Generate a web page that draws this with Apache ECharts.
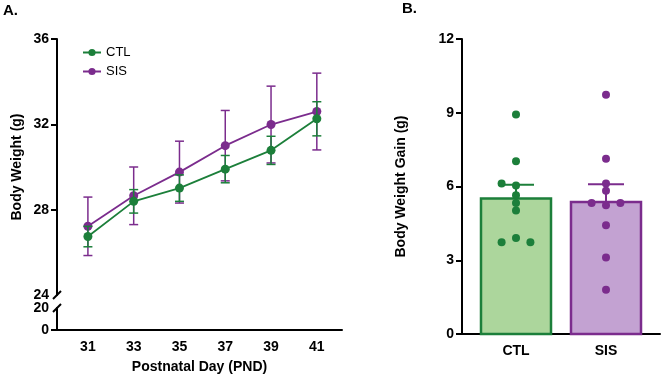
<!DOCTYPE html>
<html>
<head>
<meta charset="utf-8">
<script src="https://cdn.jsdelivr.net/npm/echarts@6/dist/echarts.min.js"></script>
<style>
  html, body { margin: 0; padding: 0; background: #fff; }
  #chart { width: 662px; height: 375px; }
</style>
</head>
<body>
<div id="chart"></div>
<script>
// Panel A: body weight over postnatal days (mean +/- SEM)
const days = [31, 33, 35, 37, 39, 41];
const ctlMean = [26.74, 28.39, 29.01, 29.90, 30.78, 32.26];
const ctlSem = [0.48, 0.55, 0.62, 0.64, 0.66, 0.80];
const sisMean = [27.22, 28.65, 29.76, 31.00, 31.99, 32.60];
const sisSem = [1.37, 1.35, 1.45, 1.65, 1.80, 1.80];
const yTicksTop = [24, 28, 32, 36];
const yTicksBottom = [0, 20];

// Panel B: body weight gain per animal
const groups = ['CTL', 'SIS'];
const gainMean = [5.51, 5.37];
const gainSem = [0.56, 0.72];
const ctlGain = [8.93, 7.03, 6.12, 6.04, 5.64, 5.33, 5.02, 3.91, 3.73, 3.73];
const ctlJitter = [0, 0, -1, 0, 0, 0, 0, 0, -1, 1];
const sisGain = [9.73, 7.13, 6.12, 5.83, 5.33, 5.24, 5.33, 4.42, 3.11, 1.80];
const sisJitter = [0, 0, 0, 0, -1, 0, 1, 0, 0, 0];

const FONT = 'Arial, "Liberation Sans", Helvetica, sans-serif';
const GREEN = '#1c7f3a';
const PURPLE = '#7b2c8d';
const GREEN_FILL = '#acd69c';
const PURPLE_FILL = '#c3a2d2';

// layout
const gA = { left: 57, top: 39, width: 285, height: 256 };
const gA2 = { left: 57, top: 308, width: 285, height: 26 };
const gB = { left: 462, top: 39, width: 198, height: 295 };

const chart = echarts.init(document.getElementById('chart'));

const axisLine = { show: true, lineStyle: { color: '#000', width: 2 } };
const tickLabel = { color: '#000', fontFamily: FONT, fontWeight: 'bold', fontSize: 14 };
const nameStyle = { color: '#000', fontFamily: FONT, fontWeight: 'bold', fontSize: 14 };
const yTick = { show: true, length: 6, lineStyle: { width: 2, color: '#000' } };

function errBarsA(mean, sem) {
  return days.map((d, i) => [d, mean[i] - sem[i], mean[i] + sem[i]]);
}

function renderErr(params, api) {
  const x = api.value(0);
  const lo = api.coord([x, api.value(1)]);
  const hi = api.coord([x, api.value(2)]);
  const c = api.visual('color');
  const hw = 4.5;
  const st = { stroke: c, lineWidth: 1.5 };
  return {
    type: 'group',
    children: [
      { type: 'line', shape: { x1: lo[0], y1: lo[1], x2: hi[0], y2: hi[1] }, style: st },
      { type: 'line', shape: { x1: lo[0] - hw, y1: lo[1], x2: lo[0] + hw, y2: lo[1] }, style: st },
      { type: 'line', shape: { x1: hi[0] - hw, y1: hi[1], x2: hi[0] + hw, y2: hi[1] }, style: st }
    ]
  };
}

function renderBar(params, api) {
  const x = api.value(0);
  const top = api.coord([x, api.value(1)]);
  const base = api.coord([x, 0]);
  const semTop = api.coord([x, api.value(1) + api.value(2)]);
  const fill = params.dataIndex === 0 ? GREEN_FILL : PURPLE_FILL;
  const stroke = params.dataIndex === 0 ? GREEN : PURPLE;
  const w = 70;
  return {
    type: 'group',
    children: [
      {
        type: 'rect',
        shape: { x: top[0] - w / 2, y: top[1], width: w, height: base[1] - top[1] },
        style: { fill: fill, stroke: stroke, lineWidth: 2.5 }
      },
      { type: 'line', shape: { x1: top[0], y1: top[1], x2: semTop[0], y2: semTop[1] }, style: { stroke: stroke, lineWidth: 2 } },
      { type: 'line', shape: { x1: semTop[0] - 18, y1: semTop[1], x2: semTop[0] + 18, y2: semTop[1] }, style: { stroke: stroke, lineWidth: 2 } }
    ]
  };
}

const jit = 0.16;
const option = {
  animation: false,
  backgroundColor: '#fff',
  textStyle: { fontFamily: FONT },
  grid: [
    Object.assign({}, gA),
    Object.assign({}, gA2),
    Object.assign({}, gB)
  ],
  legend: {
    data: ['CTL', 'SIS'],
    orient: 'vertical',
    left: 77,
    top: 41,
    itemWidth: 18,
    itemHeight: 9,
    itemGap: 6,
    textStyle: { color: '#000', fontFamily: FONT, fontSize: 13 }
  },
  xAxis: [
    { gridIndex: 0, type: 'value', min: 29.65, max: 42.1, show: false },
    {
      gridIndex: 1, type: 'value', min: 29.65, max: 42.1,
      axisLine: axisLine,
      axisTick: { show: false },
      splitLine: { show: false },
      axisLabel: Object.assign({ customValues: days, margin: 10 }, tickLabel),
      name: 'Postnatal Day (PND)',
      nameLocation: 'middle',
      nameGap: 30,
      nameTextStyle: nameStyle
    },
    {
      gridIndex: 2, type: 'value', min: 0.4, max: 2.6,
      axisLine: axisLine,
      axisTick: { show: false },
      splitLine: { show: false },
      axisLabel: Object.assign({ customValues: [1, 2], margin: 10, formatter: v => groups[Math.round(v) - 1] }, tickLabel)
    }
  ],
  yAxis: [
    {
      gridIndex: 0, type: 'value', min: 24, max: 36, interval: 4,
      axisLine: axisLine,
      axisTick: Object.assign({ customValues: [28, 32, 36] }, yTick),
      splitLine: { show: false },
      axisLabel: Object.assign({ customValues: yTicksTop, margin: 8 }, tickLabel),
      name: 'Body Weight (g)',
      nameLocation: 'middle',
      nameGap: 33,
      nameTextStyle: nameStyle
    },
    {
      gridIndex: 1, type: 'value', min: 0, max: 20, interval: 20,
      axisLine: axisLine,
      axisTick: Object.assign({ customValues: [0] }, yTick),
      splitLine: { show: false },
      axisLabel: Object.assign({ customValues: yTicksBottom, margin: 8 }, tickLabel)
    },
    {
      gridIndex: 2, type: 'value', min: 0, max: 12, interval: 3,
      axisLine: axisLine,
      axisTick: yTick,
      splitLine: { show: false },
      axisLabel: Object.assign({ margin: 8 }, tickLabel),
      name: 'Body Weight Gain (g)',
      nameLocation: 'middle',
      nameGap: 54,
      nameTextStyle: nameStyle
    }
  ],
  graphic: [
    { type: 'text', left: 3, top: 3, style: { text: 'A.', font: 'bold 15px ' + FONT, fill: '#000' } },
    { type: 'text', left: 402, top: 1, style: { text: 'B.', font: 'bold 15px ' + FONT, fill: '#000' } },
    // axis break marks
    { type: 'line', shape: { x1: gA.left - 4, y1: gA.top + gA.height + 4, x2: gA.left + 4, y2: gA.top + gA.height - 4 }, style: { stroke: '#000', lineWidth: 2 } },
    { type: 'line', shape: { x1: gA2.left - 4, y1: gA2.top + 4, x2: gA2.left + 4, y2: gA2.top - 4 }, style: { stroke: '#000', lineWidth: 2 } }
  ],
  series: [
    {
      name: 'SIS-err', type: 'custom', xAxisIndex: 0, yAxisIndex: 0,
      itemStyle: { color: PURPLE }, renderItem: renderErr,
      data: errBarsA(sisMean, sisSem), z: 2
    },
    {
      name: 'SIS', type: 'line', xAxisIndex: 0, yAxisIndex: 0,
      data: days.map((d, i) => [d, sisMean[i]]),
      symbol: 'circle', symbolSize: 9,
      itemStyle: { color: PURPLE }, lineStyle: { color: PURPLE, width: 1.8 }, z: 3
    },
    {
      name: 'CTL-err', type: 'custom', xAxisIndex: 0, yAxisIndex: 0,
      itemStyle: { color: GREEN }, renderItem: renderErr,
      data: errBarsA(ctlMean, ctlSem), z: 4
    },
    {
      name: 'CTL', type: 'line', xAxisIndex: 0, yAxisIndex: 0,
      data: days.map((d, i) => [d, ctlMean[i]]),
      symbol: 'circle', symbolSize: 9,
      itemStyle: { color: GREEN }, lineStyle: { color: GREEN, width: 1.8 }, z: 5
    },
    {
      name: 'gain-bars', type: 'custom', xAxisIndex: 2, yAxisIndex: 2,
      renderItem: renderBar,
      data: groups.map((g, i) => [i + 1, gainMean[i], gainSem[i]]), z: 2
    },
    {
      name: 'CTL-pts', type: 'scatter', xAxisIndex: 2, yAxisIndex: 2,
      symbolSize: 8, itemStyle: { color: GREEN, opacity: 1 },
      data: ctlGain.map((v, i) => [1 + ctlJitter[i] * jit, v]), z: 5
    },
    {
      name: 'SIS-pts', type: 'scatter', xAxisIndex: 2, yAxisIndex: 2,
      symbolSize: 8, itemStyle: { color: PURPLE, opacity: 1 },
      data: sisGain.map((v, i) => [2 + sisJitter[i] * jit, v]), z: 5
    }
  ]
};

chart.setOption(option);
</script>
</body>
</html>
